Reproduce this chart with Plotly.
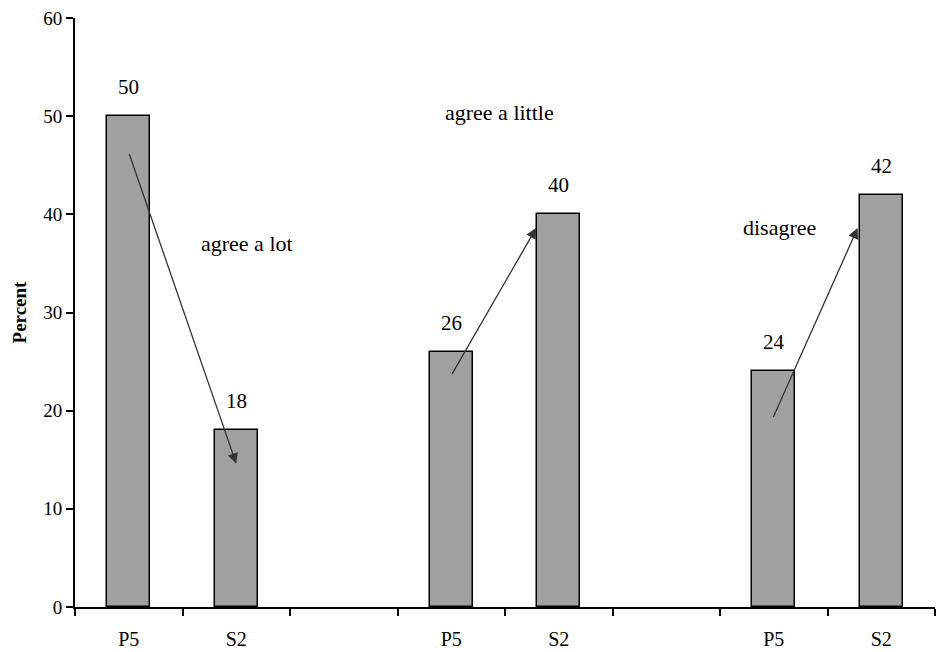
import plotly.graph_objects as go

categories = ["P5", "S2", "", "P5", "S2", "", "P5", "S2"]
values = [50, 18, None, 26, 40, None, 24, 42]
group_labels = ["agree a lot", "agree a little", "disagree"]
group_label_pos = [(1.1, 37.0), (3.45, 50.4), (6.05, 38.7)]
arrows = [((0.0, 46.3), (1.0, 14.6)), ((3.0, 23.6), (3.79, 38.6)), ((5.99, 19.2), (6.78, 38.6))]

xs = list(range(len(categories)))
font = "Liberation Serif, Times New Roman, serif"

fig = go.Figure()
fig.add_trace(go.Bar(
    x=xs, y=values, width=0.4,
    marker=dict(color="#a0a0a0", line=dict(color="black", width=1.5)),
    showlegend=False, hoverinfo="skip",
))

for x, v in zip(xs, values):
    if v is None:
        continue
    fig.add_annotation(x=x, y=v, text=str(v), showarrow=False, yanchor="bottom",
                       yshift=15, font=dict(family=font, size=21, color="black"))

for t, (gx, gy) in zip(group_labels, group_label_pos):
    fig.add_annotation(x=gx, y=gy, text=t, showarrow=False,
                       font=dict(family=font, size=22, color="black"))

for (x0, y0), (x1, y1) in arrows:
    fig.add_annotation(x=x1, y=y1, ax=x0, ay=y0, xref="x", yref="y", axref="x", ayref="y",
                       text="", showarrow=True, arrowhead=2, arrowsize=1.6, arrowwidth=1.3,
                       arrowcolor="#333333", standoff=0)

fig.update_layout(
    width=938, height=652,
    margin=dict(l=75, r=3, t=18, b=45),
    plot_bgcolor="white", paper_bgcolor="white",
    font=dict(family=font, size=18, color="black"),
    bargap=0,
)
fig.update_xaxes(
    range=[-0.5, 7.5], tickmode="array", tickvals=xs, ticktext=categories,
    ticks="", showline=True, linecolor="black", linewidth=2, showgrid=False, zeroline=False,
    ticklabelstandoff=13, automargin=False,
    minor=dict(tickmode="linear", tick0=-0.5, dtick=1, ticks="outside", ticklen=7,
               tickcolor="black", tickwidth=1.5, showgrid=False),
    tickfont=dict(family=font, size=20),
)
fig.update_yaxes(
    range=[0, 60], dtick=10, ticks="outside", ticklen=7, tickwidth=1.5, tickcolor="black",
    showline=True, linecolor="black", linewidth=2, showgrid=False, zeroline=False,
    tickfont=dict(family=font, size=19), automargin=False,
    title=dict(text="<b>Percent</b>", font=dict(family=font, size=19), standoff=12),
)
fig.write_html("out.html")
